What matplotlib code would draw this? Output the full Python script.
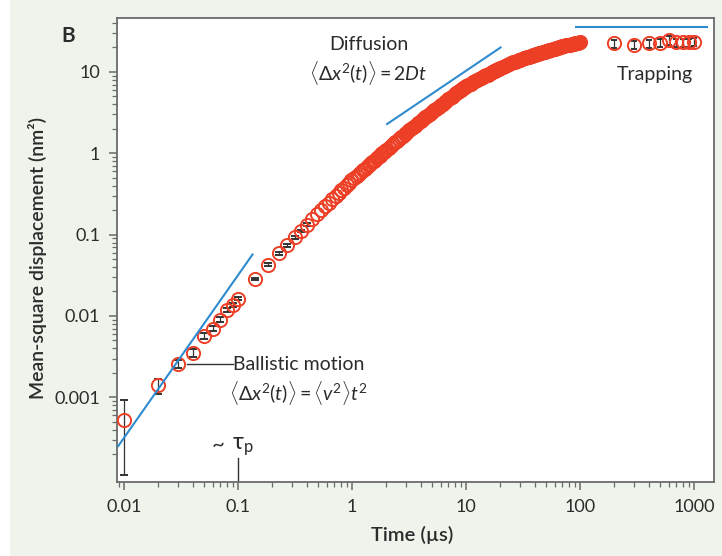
import matplotlib
matplotlib.use("Agg")
import matplotlib.pyplot as plt
from matplotlib.ticker import LogLocator, NullFormatter, FixedLocator, FixedFormatter
from matplotlib.patches import Rectangle

plt.rcParams['font.family'] = ['Lato', 'DejaVu Sans']
plt.rcParams['mathtext.fontset'] = 'custom'
plt.rcParams['mathtext.rm'] = 'Lato'
plt.rcParams['mathtext.it'] = 'Lato:italic'
plt.rcParams['mathtext.bf'] = 'Lato:bold'

# ---- data: sparse points with error bars (short times) ----
t_early = [0.01, 0.02, 0.03, 0.04, 0.05, 0.06, 0.07, 0.08, 0.09, 0.1,
           0.14, 0.185, 0.23, 0.27, 0.315, 0.36, 0.405]
msd_early = [0.00052, 0.0014, 0.0026, 0.00355, 0.0057, 0.007, 0.009, 0.012, 0.0136, 0.0163,
             0.0285, 0.0427, 0.0586, 0.0739, 0.0924, 0.112, 0.133]
err_early_lo = [0.00041, 0.0003, 0.0003, 0.0004, 0.0005, 0.0005, 0.0006, 0.0007, 0.0008, 0.0008,
                0.001, 0.0015, 0.002, 0.0025, 0.003, 0.0035, 0.004]
err_early_hi = [0.00042, 0.0003, 0.0003, 0.0004, 0.0005, 0.0005, 0.0006, 0.0007, 0.0008, 0.0008,
                0.001, 0.0015, 0.002, 0.0025, 0.003, 0.0035, 0.004]

# ---- data: dense points (0.45 - 100 us) ----
t_dense = [0.45, 0.495, 0.54, 0.585, 0.63, 0.675, 0.72, 0.765, 0.81, 0.855, 0.9, 0.945, 0.99,
           1.05, 1.1, 1.15, 1.2, 1.25, 1.3, 1.35, 1.4, 1.45, 1.5, 1.55, 1.6, 1.65, 1.7, 1.75, 1.8,
           1.85, 1.9, 1.95, 2.0,
           2.1, 2.2, 2.3, 2.4, 2.5, 2.6, 2.7, 2.8, 2.9, 3.0,
           3.2, 3.4, 3.6, 3.8, 4.0, 4.2, 4.4, 4.6, 4.8, 5.0,
           5.25, 5.5, 5.75, 6.0, 6.25, 6.5, 6.75, 7.0, 7.25, 7.5, 7.75, 8.0, 8.25, 8.5, 8.75,
           9.0, 9.25, 9.5, 9.75, 10.0,
           10.5, 11.0, 11.5, 12.0, 12.5, 13.0, 13.5, 14.0, 14.5, 15.0, 15.5, 16.0, 16.5, 17.0,
           17.5, 18.0, 18.5, 19.0, 19.5, 20.0,
           21, 22, 23, 24, 25, 26, 27, 28, 29, 30,
           31, 32, 33, 34, 35, 36, 37, 38, 39, 40, 41, 42, 43, 44, 45, 46, 47, 48, 49, 50,
           52, 54, 56, 58, 60, 62, 64, 66, 68, 70,
           73, 76, 79, 82, 85, 88, 91, 94, 97, 100]
msd_dense = [0.155, 0.177, 0.200, 0.223, 0.247, 0.272, 0.298, 0.324, 0.351, 0.378, 0.406, 0.434, 0.463,
             0.499, 0.528, 0.558, 0.588, 0.618, 0.649, 0.680, 0.711, 0.742, 0.774, 0.806, 0.838,
             0.870, 0.903, 0.935, 0.969, 1.002, 1.035, 1.069, 1.10,
             1.166, 1.232, 1.299, 1.366, 1.434, 1.502, 1.571, 1.640, 1.710, 1.78,
             1.917, 2.055, 2.194, 2.335, 2.477, 2.619, 2.763, 2.908, 3.053, 3.20,
             3.371, 3.544, 3.716, 3.889, 4.063, 4.237, 4.412, 4.587, 4.763, 4.938, 5.115, 5.291,
             5.469, 5.646, 5.824, 6.002, 6.181, 6.360, 6.538, 6.718,
             6.946, 7.190, 7.430, 7.668, 7.903, 8.136, 8.366, 8.594, 8.821, 9.045, 9.267, 9.486,
             9.706, 9.921, 10.14, 10.35, 10.56, 10.77, 10.98, 11.19,
             11.52, 11.84, 12.15, 12.46, 12.76, 13.06, 13.35, 13.64, 13.92, 14.20,
             14.42, 14.63, 14.84, 15.04, 15.24, 15.44, 15.64, 15.83, 16.02, 16.21, 16.39, 16.58,
             16.76, 16.94, 17.11, 17.29, 17.46, 17.63, 17.80, 17.96,
             18.28, 18.56, 18.84, 19.10, 19.36, 19.62, 19.87, 20.11, 20.36, 20.59,
             20.89, 21.17, 21.44, 21.70, 21.96, 22.22, 22.46, 22.70, 22.94, 23.17]

# ---- data: trapping plateau (long times) ----
t_trap = [200, 300, 400, 500, 600, 700, 800, 900, 1000]
msd_trap = [22.4, 21.7, 22.4, 22.7, 24.5, 23.0, 23.0, 23.0, 23.4]
err_trap = [2.5, 2.5, 2.6, 2.6, 3.0, 2.6, 2.6, 2.6, 2.6]

# ---- guide lines ----
ballistic_t = [0.0088, 0.136]
ballistic_msd = [0.000245, 0.0584]
diffusion_t = [2.0, 20.5]
diffusion_msd = [2.25, 20.3]
trap_line_t = [90, 1340]
trap_line_msd = [35.8, 35.8]

x_ticks = [0.01, 0.1, 1, 10, 100, 1000]
x_ticklabels = ['0.01', '0.1', '1', '10', '100', '1000']
y_ticks = [0.001, 0.01, 0.1, 1, 10]
y_ticklabels = ['0.001', '0.01', '0.1', '1', '10']

RED = '#ec3f25'
BLUE = '#2e8bd0'
TXT = '#2b2b2b'
BG = '#eef4ec'
AX = '#6a6a6a'

fig = plt.figure(figsize=(7.22, 5.56), dpi=100, facecolor=BG)
fig.patches.append(Rectangle((0, 0), 10 / 722, 1, transform=fig.transFigure,
                             facecolor='white', edgecolor='none', zorder=-10))
ax = fig.add_axes([117 / 722, 1 - 482 / 556, (714 - 117) / 722, (482 - 18) / 556])
ax.set_facecolor('white')
ax.set_xscale('log')
ax.set_yscale('log')
ax.set_xlim(0.0087, 1500)
ax.set_ylim(9.1e-5, 46)

mk = dict(marker='o', mfc='none', mec=RED, ms=9.5, mew=1.4, linestyle='none')
ax.errorbar(t_early, msd_early, yerr=[err_early_lo, err_early_hi], ecolor='#333333',
            elinewidth=0.9, capsize=3, capthick=0.9, zorder=3, **mk)
ax.plot(t_dense, msd_dense, zorder=3, **mk)
# where the points overlap into a continuous band (t >= 3 us)
i_band = t_dense.index(3.0)
ax.plot(t_dense[i_band:], msd_dense[i_band:], color=RED, lw=9.2,
        solid_capstyle='round', zorder=3)
ax.errorbar(t_trap, msd_trap, yerr=err_trap, ecolor='#333333',
            elinewidth=0.9, capsize=2.5, capthick=0.9, zorder=3, **mk)

ax.plot(ballistic_t, ballistic_msd, color=BLUE, lw=1.5, zorder=4, solid_capstyle='butt')
ax.plot(diffusion_t, diffusion_msd, color=BLUE, lw=1.5, zorder=4, solid_capstyle='butt')
ax.plot(trap_line_t, trap_line_msd, color=BLUE, lw=1.5, zorder=4, solid_capstyle='butt')

# annotations
ax.plot([0.0355, 0.0905], [0.00254, 0.00254], color='#333333', lw=1.0, zorder=2)
ax.plot([0.1, 0.1], [9.1e-5, 0.000178], color='#333333', lw=1.0, zorder=2)
ax.text(0.0905, 0.00251, 'Ballistic motion', fontsize=14, color=TXT, ha='left', va='center')
ax.text(0.083, 0.00112, r'$\langle\Delta x^2(t)\rangle = \langle v^2\rangle t^2$',
        fontsize=14, color=TXT, ha='left', va='center')
ax.text(0.059, 0.00026, '~', fontsize=16, color=TXT, ha='left', va='center')
ax.text(0.089, 0.00025, r'$\mathrm{\tau}_{\mathrm{p}}$', fontsize=17, color=TXT,
        ha='left', va='center')
ax.text(1.41, 21.5, 'Diffusion', fontsize=14, color=TXT, ha='center', va='center')
ax.text(1.40, 9.6, r'$\langle\Delta x^2(t)\rangle = 2Dt$', fontsize=14, color=TXT,
        ha='center', va='center')
ax.text(455, 9.2, 'Trapping', fontsize=14, color=TXT, ha='center', va='center')

for s in ax.spines.values():
    s.set_color(AX)
    s.set_linewidth(1.3)

ax.xaxis.set_major_locator(FixedLocator(x_ticks))
ax.xaxis.set_major_formatter(FixedFormatter(x_ticklabels))
ax.yaxis.set_major_locator(FixedLocator(y_ticks))
ax.yaxis.set_major_formatter(FixedFormatter(y_ticklabels))
ax.xaxis.set_minor_locator(LogLocator(base=10, subs=[2, 3, 4, 5, 6, 7, 8, 9], numticks=30))
ax.yaxis.set_minor_locator(LogLocator(base=10, subs=[2, 3, 4, 5, 6, 7, 8, 9], numticks=30))
ax.xaxis.set_minor_formatter(NullFormatter())
ax.yaxis.set_minor_formatter(NullFormatter())
ax.tick_params(which='major', direction='out', length=6, width=1.1, color=AX,
               labelsize=13, labelcolor=TXT, pad=6)
ax.tick_params(which='minor', direction='out', length=3.5, width=0.9, color=AX)

fig.text(68 / 722, 1 - 36 / 556, 'B', fontsize=15, fontweight='bold', color=TXT,
         ha='center', va='center')
fig.text(38 / 722, 1 - 258 / 556, 'Mean-square displacement (nm²)', fontsize=14,
         fontweight='semibold', color=TXT, rotation=90, ha='center', va='center')
fig.text(412 / 722, 1 - 535 / 556, 'Time (µs)', fontsize=14.5, fontweight='semibold',
         color=TXT, ha='center', va='center')

fig.savefig('out.png', dpi=100, facecolor=BG)
